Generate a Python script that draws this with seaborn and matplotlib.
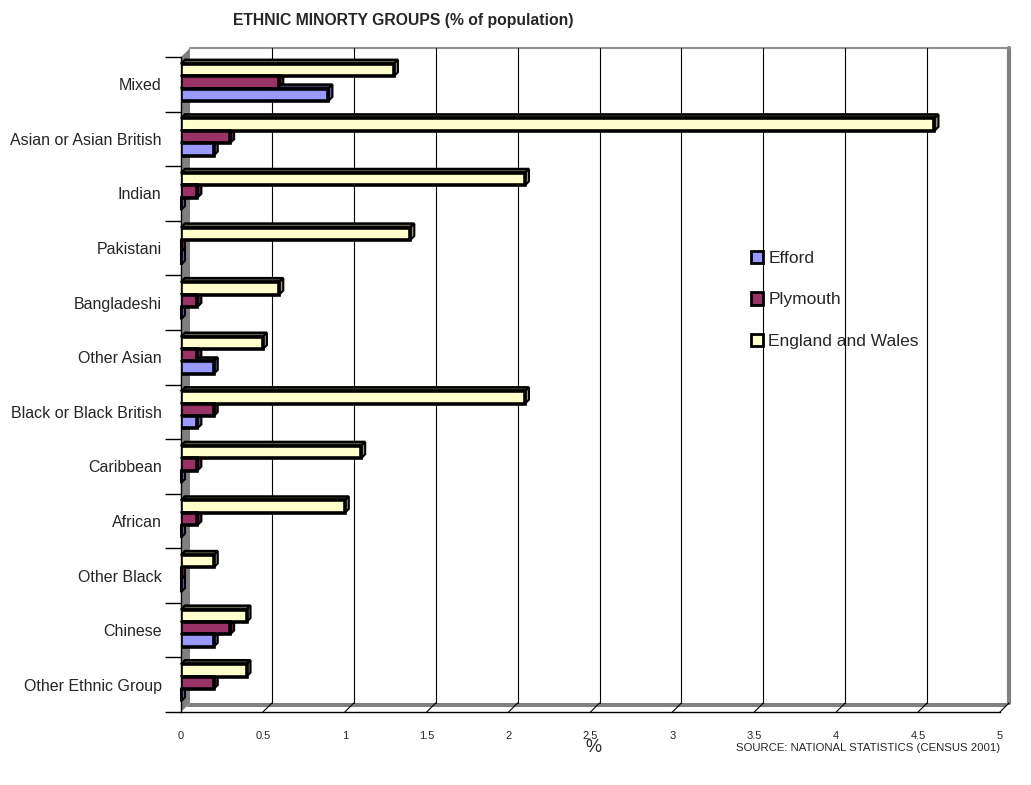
import numpy as np
import pandas as pd
import matplotlib
matplotlib.use("Agg")
import matplotlib.pyplot as plt
import seaborn as sns
from matplotlib.patches import Polygon, Patch
from matplotlib.lines import Line2D
from matplotlib.transforms import IdentityTransform
from matplotlib.colors import to_rgb

categories = ["Mixed", "Asian or Asian British", "Indian", "Pakistani", "Bangladeshi",
              "Other Asian", "Black or Black British", "Caribbean", "African",
              "Other Black", "Chinese", "Other Ethnic Group"]
efford = [0.9, 0.2, 0.0, 0.0, 0.0, 0.2, 0.1, 0.0, 0.0, 0.0, 0.2, 0.0]
plymouth = [0.6, 0.3, 0.1, 0.0, 0.1, 0.1, 0.2, 0.1, 0.1, 0.0, 0.3, 0.2]
england = [1.3, 4.6, 2.1, 1.4, 0.6, 0.5, 2.1, 1.1, 1.0, 0.2, 0.4, 0.4]
series_names = ["Efford", "Plymouth", "England and Wales"]
series_colors = {"Efford": "#9999FF", "Plymouth": "#993366", "England and Wales": "#FFFFCC"}
x_ticks = [0, 0.5, 1, 1.5, 2, 2.5, 3, 3.5, 4, 4.5, 5]
x_tick_labels = ["0", "0.5", "1", "1.5", "2", "2.5", "3", "3.5", "4", "4.5", "5"]

rows = []
for name, vals in zip(series_names, [efford, plymouth, england]):
    for c, v in zip(categories, vals):
        rows.append({"Group": c, "Area": name, "Percent": v})
df = pd.DataFrame(rows)

sns.set_theme(style="white")
plt.rcParams["font.family"] = ["Liberation Sans Narrow", "Liberation Sans", "DejaVu Sans"]

W, H = 1031, 785
fig = plt.figure(figsize=(W / 100, H / 100), dpi=100)
fig.patch.set_facecolor("white")
ax = fig.add_axes([181 / W, 1 - 712 / H, 819 / W, 655 / H])

sns.barplot(data=df, y="Group", x="Percent", hue="Area",
            hue_order=["England and Wales", "Plymouth", "Efford"],
            order=categories, palette=series_colors, orient="h",
            width=0.68, edgecolor="black", linewidth=2.6, saturation=1,
            legend=False, ax=ax, zorder=3)

ax.set_xlim(0, 5)
ax.set_ylim(len(categories) - 0.5, -0.5)
ax.set_xlabel("")
ax.set_ylabel("")
ax.set_facecolor("none")
for s in ["top", "right"]:
    ax.spines[s].set_visible(False)
ax.spines["left"].set_color("black")
ax.spines["left"].set_linewidth(1)
ax.spines["bottom"].set_color("black")
ax.spines["bottom"].set_linewidth(1)

ax.set_xticks(x_ticks)
ax.set_xticklabels(x_tick_labels, fontsize=8)
ax.tick_params(axis="x", direction="out", length=6, width=1, color="black", pad=8)
ax.set_yticks(range(len(categories)))
ax.set_yticklabels(categories, fontsize=11.5)
ax.set_yticks(np.arange(-0.5, len(categories), 1), minor=True)
ax.tick_params(axis="y", which="major", length=0, pad=14)
ax.tick_params(axis="y", which="minor", length=11.5, width=1, color="black", left=True)

# shift bar group slightly up (3D perspective)
bar_patches = [p for p in ax.patches if p.get_zorder() == 3]
for p in bar_patches:
    p.set_y(p.get_y() - 0.035)

fig.canvas.draw()
ident = IdentityTransform()
bb = ax.get_window_extent()
x0, y0, x1, y1 = bb.x0, bb.y0, bb.x1, bb.y1
d = 9

# left wall
ax.add_patch(Polygon([(x0, y0), (x0, y1), (x0 + d, y1 + d), (x0 + d, y0 + d)],
                     closed=True, facecolor="#808080", edgecolor="none",
                     transform=ident, clip_on=False, zorder=1))
# floor band
ax.add_patch(Polygon([(x0 + d - 4, y0 + d - 4), (x0 + d, y0 + d), (x1 + d, y0 + d), (x1 + d - 4, y0 + d - 4)],
                     closed=True, facecolor="#808080", edgecolor="none",
                     transform=ident, clip_on=False, zorder=1))
# back wall right and top edges
ax.add_line(Line2D([x1 + d, x1 + d], [y0 + d, y1 + d], color="#808080", lw=3,
                   transform=ident, clip_on=False, zorder=1))
ax.add_line(Line2D([x0 + d, x1 + d], [y1 + d, y1 + d], color="#909090", lw=1.5,
                   transform=ident, clip_on=False, zorder=1))
# gridlines on back wall and connectors
for v in x_ticks:
    xp = ax.transData.transform((v, 0))[0]
    if 0 < v < 5:
        ax.add_line(Line2D([xp + d, xp + d], [y0 + d, y1 + d], color="black", lw=0.8,
                           transform=ident, clip_on=False, zorder=1.5))
    if v > 0:
        ax.add_line(Line2D([xp, xp + d], [y0, y0 + d], color="black", lw=0.8,
                           transform=ident, clip_on=False, zorder=1.5))

# 3D faces on bars
dd = 4
for p in bar_patches:
    bx, by, bw, bh = p.get_x(), p.get_y(), p.get_width(), p.get_height()
    (px0, py0) = ax.transData.transform((bx, by + bh))
    (px1, py1) = ax.transData.transform((bx + bw, by))
    fc = np.array(to_rgb(p.get_facecolor()))
    top = Polygon([(px0, py1), (px1, py1), (px1 + dd, py1 + dd), (px0 + dd, py1 + dd)],
                  closed=True, facecolor=fc * 0.4, edgecolor="black", lw=1.8,
                  transform=ident, clip_on=False, zorder=2.5)
    right = Polygon([(px1, py0), (px1, py1), (px1 + dd, py1 + dd), (px1 + dd, py0 + dd)],
                    closed=True, facecolor=fc * 0.6, edgecolor="black", lw=1.5,
                    transform=ident, clip_on=False, zorder=2.5)
    ax.add_patch(top)
    ax.add_patch(right)

handles = [Patch(facecolor=series_colors[n], edgecolor="black", linewidth=2) for n in series_names]
fig.legend(handles, series_names, loc="upper left", bbox_to_anchor=(735 / W, 1 - 235 / H),
           frameon=False, fontsize=12.5, handlelength=0.72, handleheight=0.75,
           handletextpad=0.3, labelspacing=1.5)

fig.text(403 / W, 1 - 20 / H, "ETHNIC MINORTY GROUPS (% of population)", ha="center",
         va="center", fontsize=11.3, fontweight="bold")
fig.text(593 / W, 1 - 748 / H, "%", ha="center", va="center", fontsize=13)
fig.text(1000 / W, 1 - 748 / H, "SOURCE: NATIONAL STATISTICS (CENSUS 2001)", ha="right",
         va="center", fontsize=8.2)

fig.savefig("out.png", dpi=100, facecolor="white")
